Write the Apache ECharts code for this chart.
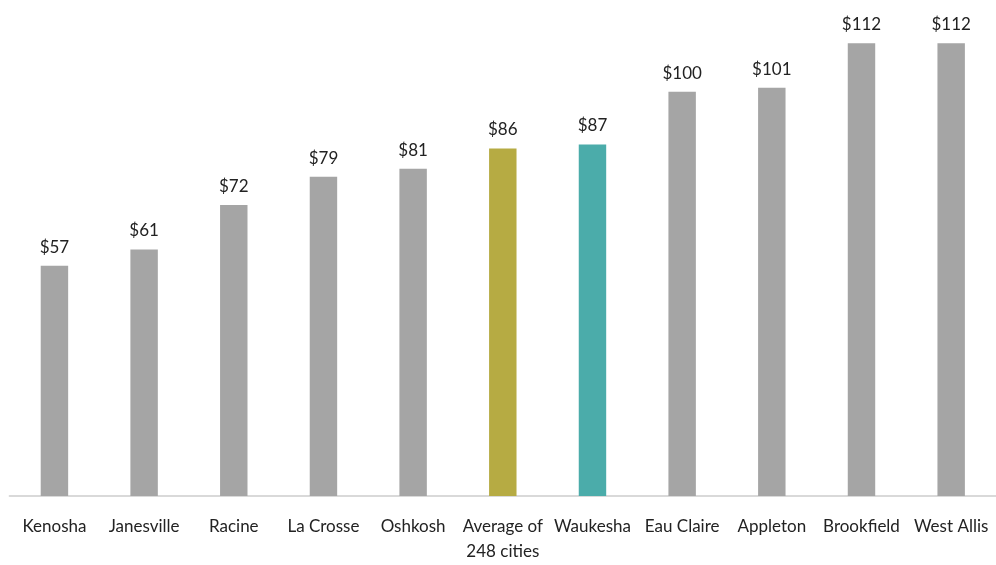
<!DOCTYPE html>
<html>
<head>
<meta charset="utf-8">
<script src="https://cdn.jsdelivr.net/npm/echarts@6/dist/echarts.min.js"></script>
<style>
html,body{margin:0;padding:0;background:#fff;}
#chart{width:996px;height:565px;}
</style>
</head>
<body>
<div id="chart"></div>
<script>
var categories = ["Kenosha","Janesville","Racine","La Crosse","Oshkosh","Average of\n248 cities","Waukesha","Eau Claire","Appleton","Brookfield","West Allis"];
var values = [57,61,72,79,81,86,87,100,101,112,112];
var barColors = ["#A5A5A5","#A5A5A5","#A5A5A5","#A5A5A5","#A5A5A5","#B6AB43","#4BACAA","#A5A5A5","#A5A5A5","#A5A5A5","#A5A5A5"];

var chart = echarts.init(document.getElementById('chart'), null, {renderer:'canvas'});
var font = 'Lato';
chart.setOption({
  animation: false,
  grid: {left: 9.6, right: -1, top: 11, bottom: 69, containLabel: false},
  xAxis: {
    type: 'category',
    data: categories,
    axisLine: {show: true, lineStyle: {color: '#D9D9D9', width: 2}},
    axisTick: {show: false},
    axisLabel: {color: '#222', fontFamily: font, fontSize: 17, margin: 18, lineHeight: 25, interval: 0}
  },
  yAxis: {
    type: 'value', min: 0, max: 120,
    show: false,
    splitLine: {show: false}
  },
  series: [{
    type: 'bar',
    barWidth: '30.6%',
    data: values.map(function(v, i){ return {value: v, itemStyle: {color: barColors[i]}}; }),
    label: {
      show: true, position: 'top', distance: 10,
      formatter: function(p){ return '$' + p.value; },
      color: '#222', fontFamily: font, fontSize: 17
    }
  }]
});
</script>
</body>
</html>
